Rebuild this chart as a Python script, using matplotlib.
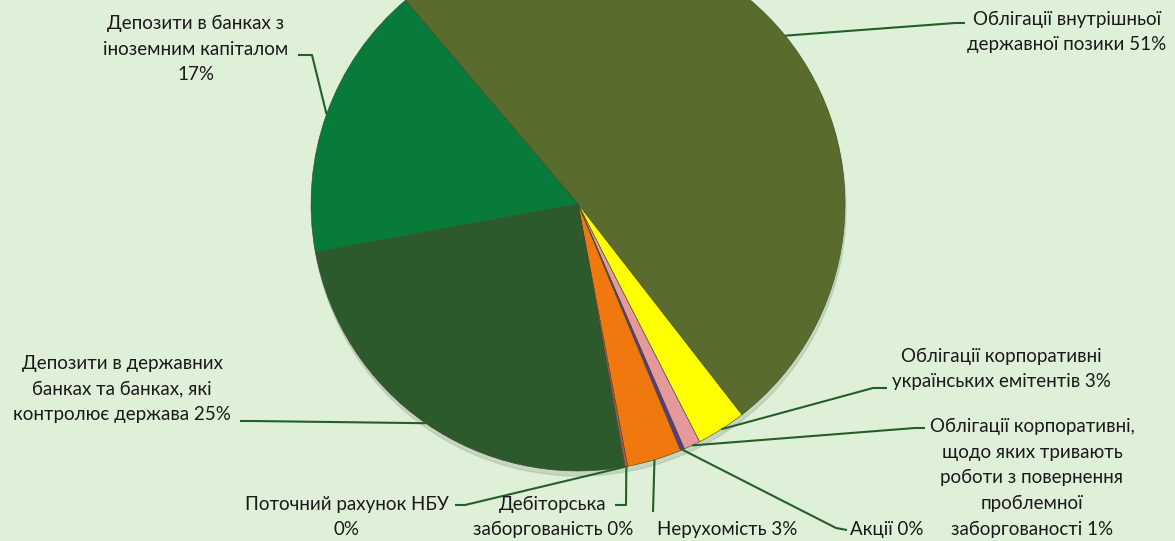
import numpy as np
import matplotlib.pyplot as plt

plt.rcParams['font.family'] = ['Lato', 'DejaVu Sans']

# частки портфеля, %
labels = ['Облігації внутрішньої\nдержавної позики 51%',
          'Облігації корпоративні\nукраїнських емітентів 3%',
          'Облігації корпоративні,\nщодо яких тривають\nроботи з повернення\nпроблемної\nзаборгованості 1%',
          'Акції 0%',
          'Нерухомість 3%',
          'Дебіторська\nзаборгованість 0%',
          'Поточний рахунок НБУ\n0%',
          'Депозити в державних\nбанках та банках, які\nконтролює держава 25%',
          'Депозити в банках з\nіноземним капіталом\n17%']
values = [50.7, 3.0, 1.0, 0.25, 3.3, 0.15, 0.05, 24.9, 16.7]
colors = ['#5a6b2e', '#ffff00', '#e6999a', '#5b3a8c', '#f0780f',
          '#c0504d', '#4f81bd', '#2c5a2c', '#087a3a']

bg = '#dff0d8'
W, H = 1175, 541
fig = plt.figure(figsize=(W / 100, H / 100), dpi=100, facecolor=bg)
ax = fig.add_axes([0, 0, 1, 1])
ax.set_facecolor(bg)

cx, cy, R = 578, H - 204, 267

# тінь під діаграмою
shadow = plt.Circle((cx + 1, cy - 5), R, color='#9aa892', alpha=0.35, zorder=1)
ax.add_patch(shadow)

wedges, _ = ax.pie(values, colors=colors, startangle=130.3, counterclock=False,
                   center=(cx, cy), radius=R, frame=True,
                   wedgeprops=dict(edgecolor='#3a4a2a', linewidth=0.4))
for w in wedges:
    w.set_zorder(2)
ax.set_xlim(0, W)
ax.set_ylim(0, H)
ax.set_aspect('equal')
ax.axis('off')

# підписи: (x, y) тексту, вирівнювання, точки ламаної виноски (пікселі зверху)
label_pos = [
    (1067, 32, 'center', [(955, 23), (965, 23)]),
    (1001, 369, 'center', [(873, 388), (887, 388)]),
    (1032, 478, 'center', [(915, 428), (925, 428)]),
    (850, 530, 'left', [(836, 528), (847, 530)]),
    (657, 530, 'left', [(653, 512)]),
    (553, 517, 'center', [(626, 505), (615, 505)]),
    (347, 517, 'center', [(465, 505), (455, 505)]),
    (122, 389, 'center', [(252, 421), (240, 421)]),
    (196, 49, 'center', [(312, 55), (298, 55)]),
]

line_c = '#245f2a'
for w, lab, (tx, ty, ha, pts) in zip(wedges, labels, label_pos):
    mid = np.deg2rad((w.theta1 + w.theta2) / 2)
    xs = [cx + R * np.cos(mid)] + [p[0] for p in pts]
    ys = [cy + R * np.sin(mid)] + [H - p[1] for p in pts]
    ax.plot(xs, ys, color=line_c, lw=1.5, zorder=3, solid_capstyle='butt')
    ax.text(tx, H - ty, lab, ha=ha, va='center', fontsize=13.5,
            color='#1a1a1a', linespacing=1.62, zorder=4)

fig.savefig('out.png', dpi=100, facecolor=bg)
